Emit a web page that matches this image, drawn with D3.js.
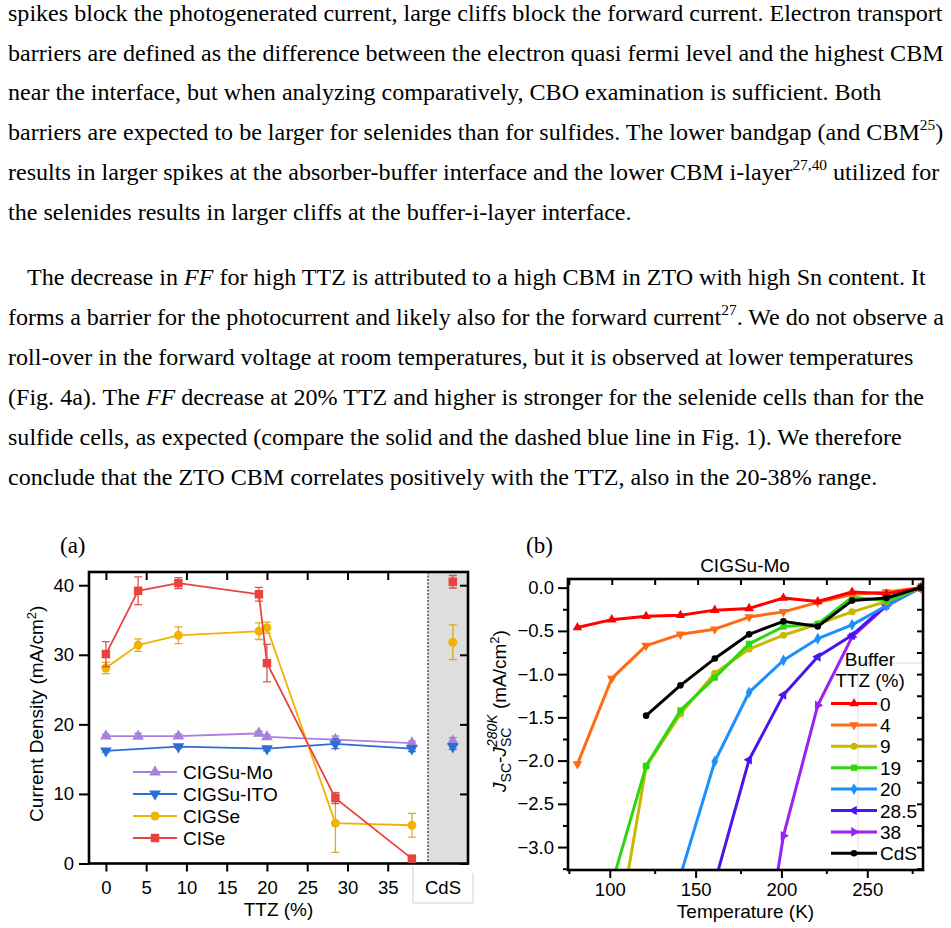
<!DOCTYPE html>
<html>
<head>
<meta charset="utf-8">
<script src="https://cdn.jsdelivr.net/npm/d3@7"></script>
<style>
  body { margin: 0; background: #fff; }
  svg { display: block; }
</style>
</head>
<body>
<div id="figdiv"></div>
<script>
/*global d3 */
(function () {
    "use strict";

    ////////////////////////////////////////
    // page text (one entry per printed line)
    ////////////////////////////////////////

    var textTop = [
        [["spikes block the photogenerated current, large cliffs block the forward current. Electron transport"]],
        [["barriers are defined as the difference between the electron quasi fermi level and the highest CBM"]],
        [["near the interface, but when analyzing comparatively, CBO examination is sufficient. Both"]],
        [["barriers are expected to be larger for selenides than for sulfides. The lower bandgap (and CBM"], ["25", "sup"], [")"]],
        [["results in larger spikes at the absorber-buffer interface and the lower CBM i-layer"], ["27,40", "sup"], [" utilized for"]],
        [["the selenides results in larger cliffs at the buffer-i-layer interface."]]
    ];
    var textBottom = [
        [["The decrease in "], ["FF", "i"], [" for high TTZ is attributed to a high CBM in ZTO with high Sn content. It"]],
        [["forms a barrier for the photocurrent and likely also for the forward current"], ["27", "sup"], [". We do not observe a"]],
        [["roll-over in the forward voltage at room temperatures, but it is observed at lower temperatures"]],
        [["(Fig. 4a). The "], ["FF", "i"], [" decrease at 20% TTZ and higher is stronger for the selenide cells than for the"]],
        [["sulfide cells, as expected (compare the solid and the dashed blue line in Fig. 1). We therefore"]],
        [["conclude that the ZTO CBM correlates positively with the TTZ, also in the 20-38% range."]]
    ];

    ////////////////////////////////////////
    // panel (a): Jsc vs TTZ
    ////////////////////////////////////////

    var seriesA = ["CIGSu-Mo", "CIGSu-ITO", "CIGSe", "CISe"];
    var ttzTicks = [0, 5, 10, 15, 20, 25, 30, 35];
    var jscTicks = [0, 10, 20, 30, 40];

    var moTtz = [0, 4, 9, 19, 20, 28.5, 38];
    var moJsc = [18.3, 18.3, 18.3, 18.7, 18.2, 17.8, 17.3];
    var moErr = [0.3, 0.4, 0.3, 0.3, 0.3, 0.5, 0.3];

    var itoTtz = [0, 9, 20, 28.5, 38];
    var itoJsc = [16.2, 16.8, 16.5, 17.2, 16.5];
    var itoErr = [0.2, 0.2, 0.3, 0.7, 0.4];

    var cigseTtz = [0, 4, 9, 19, 20, 28.5, 38];
    var cigseJsc = [28.1, 31.4, 32.8, 33.4, 33.9, 5.8, 5.5];
    var cigseErr = [0.8, 0.9, 1.2, 1.2, 0.8, 4.2, 1.7];

    var ciseTtz = [0, 4, 9, 19, 20, 28.5, 38];
    var ciseJsc = [30.1, 39.2, 40.3, 38.7, 28.8, 9.4, 0.7];
    var ciseErr = [1.8, 2.0, 0.8, 1.0, 2.7, 0.8, 0.3];

    var cdsLabel = ["CdS"];
    var cdsJsc = [17.6, 16.8, 31.8, 40.5];
    var cdsErr = [0.5, 0.4, 2.5, 0.9];

    ////////////////////////////////////////
    // panel (b): Jsc - Jsc(280K) vs temperature
    ////////////////////////////////////////

    var buffers = ["0", "4", "9", "19", "20", "28.5", "38", "CdS"];
    var tempK = [80, 100, 120, 140, 160, 180, 200, 220, 240, 260, 280];
    var dj0 = [-0.46, -0.37, -0.33, -0.32, -0.26, -0.24, -0.12, -0.16, -0.05, -0.07, 0];
    var dj4 = [-2.04, -1.05, -0.67, -0.54, -0.48, -0.34, -0.28, -0.17, -0.08, -0.05, 0];
    var dj9 = [null, -4.4, -2.07, -1.46, -0.99, -0.71, -0.55, -0.42, -0.28, -0.16, 0];
    var dj19 = [null, -3.43, -2.06, -1.42, -1.04, -0.65, -0.45, -0.42, -0.11, -0.15, 0];
    var dj20 = [null, null, null, -3.33, -2.01, -1.21, -0.84, -0.59, -0.43, -0.21, 0];
    var dj285 = [null, null, null, null, -3.41, -1.99, -1.24, -0.80, -0.55, -0.20, 0];
    var dj38 = [null, null, null, null, null, -5.35, -2.87, -1.36, -0.57, -0.21, 0];
    var djCdS = [null, null, -1.48, -1.13, -0.82, -0.54, -0.39, -0.45, -0.15, -0.12, 0];
    var tempMajor = [100, 150, 200, 250];
    var tempMinor = [75, 125, 175, 225, 275];
    var djMajor = [0, -0.5, -1, -1.5, -2, -2.5, -3];
    var djMinor = [-0.25, -0.75, -1.25, -1.75, -2.25, -2.75, -3.25];

    ////////////////////////////////////////
    // layout + styling
    ////////////////////////////////////////

    var W = 951, H = 928,
        sans = "'Liberation Sans', Arial, Helvetica, sans-serif",
        serif = "'Liberation Serif', 'Times New Roman', serif",
        fsTick = 18.5,
        fsLab = 19,
        pa = {left: 89, right: 468, split: 428, top: 572, bottom: 863.5},
        pb = {left: 568, right: 923, top: 579, bottom: 870},
        colA = {"CIGSu-Mo": "#a97fdf", "CIGSu-ITO": "#2a6fd6",
                "CIGSe": "#f1b300", "CISe": "#e8443e"},
        colB = {"0": "#ff0000", "4": "#ff6a14", "9": "#c9b800", "19": "#2bd80f",
                "20": "#1e8fff", "28.5": "#4b14ee", "38": "#9a20f4", "CdS": "#000000"},
        symA = {"CIGSu-Mo": [d3.symbolTriangle, 0, 60], "CIGSu-ITO": [d3.symbolTriangle, 180, 60],
                "CIGSe": [d3.symbolCircle, 0, 62], "CISe": [d3.symbolSquare, 0, 72]},
        symB = {"0": [d3.symbolTriangle, 0, 40], "4": [d3.symbolTriangle, 180, 40],
                "9": [d3.symbolCircle, 0, 40], "19": [d3.symbolSquare, 0, 40],
                "20": [d3.symbolDiamond, 0, 40], "28.5": [d3.symbolTriangle, 270, 40],
                "38": [d3.symbolTriangle, 90, 40], "CdS": [d3.symbolCircle, 0, 34]},
        svg, xA, yA, xCdS, xB, yB;

    svg = d3.select("#figdiv").append("svg")
        .attr("width", W).attr("height", H)
        .attr("font-family", sans);
    svg.append("rect").attr("width", W).attr("height", H).attr("fill", "#fff");


    ////////////////////////////////////////
    // helper functions
    ////////////////////////////////////////

    var symPath = function (spec) {
        return d3.symbol().type(spec[0]).size(spec[2])();
    };

    var fitFontSize = function (line, width) {
        var probe = svg.append("text").attr("font-family", serif)
            .attr("font-size", 20).text(line.map(function (s) { return s[0]; }).join("")),
            w = probe.node().getComputedTextLength();
        probe.remove();
        return 20 * width / w;
    };

    var drawLines = function (lines, x0, indent, base, gap, fs, maxRight) {
        lines.forEach(function (segs, i) {
            var x = (i === 0) ? x0 + indent : x0,
                t = svg.append("text").attr("font-family", serif)
                    .attr("font-size", fs).attr("fill", "#000")
                    .attr("x", x).attr("y", base + i * gap),
                lift = 0;
            segs.forEach(function (seg) {
                var ts = t.append("tspan").text(seg[0]);
                if (seg[1] === "i") {
                    ts.attr("font-style", "italic"); }
                if (seg[1] === "sup") {
                    ts.attr("font-size", fs * 0.64).attr("dy", -fs * 0.4);
                    lift = fs * 0.4; }
                else if (lift) {
                    ts.attr("dy", lift);
                    lift = 0; }
            });
            if (x + t.node().getComputedTextLength() > maxRight) {
                t.attr("textLength", maxRight - x).attr("lengthAdjust", "spacingAndGlyphs"); }
        });
    };

    var styleAxis = function (g) {
        g.select(".domain").remove();
        g.selectAll(".tick line").attr("stroke", "#000").attr("stroke-width", 2);
        g.selectAll(".tick text").attr("font-family", sans)
            .attr("font-size", fsTick).attr("fill", "#000");
    };

    var axisAt = function (axis, tx, ty) {
        svg.append("g").attr("transform", "translate(" + tx + "," + ty + ")")
            .call(axis).call(styleAxis);
    };


    ////////////////////////////////////////
    // text block
    ////////////////////////////////////////

    (function () {
        var fs = fitFontSize(textTop[0], 935);
        drawLines(textTop, 8, 0, 21, 39.7, fs, 944);
        drawLines(textBottom, 8, 19, 285, 39.9, fs, 944);
    }());


    ////////////////////////////////////////
    // panel (a)
    ////////////////////////////////////////

    xA = d3.scaleLinear().domain([-2.1, 40]).range([pa.left, pa.split]);
    yA = d3.scaleLinear().domain([0, 41.9]).range([pa.bottom, pa.top]);
    xCdS = d3.scalePoint().domain(cdsLabel).range([pa.split, pa.right]).padding(0.5).align(0.62);

    svg.append("text").attr("font-family", serif).attr("font-size", 23)
        .attr("x", 60).attr("y", 553).text("(a)");

    // grey CdS reference strip
    svg.append("rect").attr("x", pa.split).attr("y", pa.top)
        .attr("width", pa.right - pa.split).attr("height", pa.bottom - pa.top)
        .attr("fill", "#dedede");
    svg.append("line").attr("x1", pa.split).attr("x2", pa.split)
        .attr("y1", pa.top).attr("y2", pa.bottom)
        .attr("stroke", "#555").attr("stroke-width", 1.6).attr("stroke-dasharray", "2,1.5");

    axisAt(d3.axisLeft(yA).tickValues(jscTicks).tickSize(10).tickPadding(5), pa.left, 0);
    axisAt(d3.axisLeft(yA).tickValues(jscTicks).tickSize(8).tickFormat(""), pa.right, 0);
    axisAt(d3.axisBottom(xA).tickValues(ttzTicks).tickSize(8).tickPadding(9), 0, pa.bottom);
    axisAt(d3.axisBottom(xA).tickValues(ttzTicks).tickSize(8).tickFormat(""), 0, pa.top);

    svg.append("rect").attr("x", pa.left).attr("y", pa.top)
        .attr("width", pa.right - pa.left).attr("height", pa.bottom - pa.top)
        .attr("fill", "none").attr("stroke", "#000").attr("stroke-width", 2.6);

    // CdS tick label box
    svg.append("path").attr("d", "M413,866V903H473V873")
        .attr("fill", "none").attr("stroke", "#cfcfcf").attr("stroke-width", 1);
    svg.append("text").attr("x", 443).attr("y", 894).attr("text-anchor", "middle")
        .attr("font-size", fsTick).text(cdsLabel[0]);

    svg.append("text").attr("x", (pa.left + pa.right) / 2).attr("y", 916)
        .attr("text-anchor", "middle").attr("font-size", fsLab).text("TTZ (%)");
    (function () {
        var t = svg.append("text")
            .attr("transform", "translate(43," + ((pa.top + pa.bottom) / 2 - 4) + ") rotate(-90)")
            .attr("text-anchor", "middle").attr("font-size", fsLab);
        t.append("tspan").text("Current Density (mA/cm");
        t.append("tspan").attr("font-size", 13).attr("dy", -7).text("2");
        t.append("tspan").attr("dy", 7).text(")");
    }());

    (function () {
        var sets = [
            {name: "CIGSu-Mo", x: moTtz, y: moJsc, e: moErr},
            {name: "CIGSu-ITO", x: itoTtz, y: itoJsc, e: itoErr},
            {name: "CIGSe", x: cigseTtz, y: cigseJsc, e: cigseErr},
            {name: "CISe", x: ciseTtz, y: ciseJsc, e: ciseErr}
        ],
        line = d3.line().x(function (d) { return xA(d[0]); })
                        .y(function (d) { return yA(d[1]); });

        sets.forEach(function (s, k) {
            var col = colA[s.name],
                ecol = d3.color(col).darker(0.35).formatHex(),
                pts = s.x.map(function (v, i) { return [v, s.y[i], s.e[i]]; }),
                g = svg.append("g"),
                cx = xCdS(cdsLabel[0]);

            // error bars, including the CdS reference
            pts.concat([["cds", cdsJsc[k], cdsErr[k]]]).forEach(function (p) {
                var px = p[0] === "cds" ? cx : xA(p[0]);
                g.append("path")
                    .attr("d", "M" + (px - 4) + "," + yA(p[1] + p[2]) + "H" + (px + 4) +
                          "M" + px + "," + yA(p[1] + p[2]) + "V" + yA(p[1] - p[2]) +
                          "M" + (px - 4) + "," + yA(p[1] - p[2]) + "H" + (px + 4))
                    .attr("stroke", ecol).attr("stroke-width", 1.3)
                    .attr("fill", "none").attr("opacity", 0.85);
            });

            g.append("path").datum(pts).attr("d", line)
                .attr("fill", "none").attr("stroke", col).attr("stroke-width", 1.8);

            g.selectAll("path.mk").data(pts.concat([["cds", cdsJsc[k]]])).enter()
                .append("path").attr("class", "mk")
                .attr("d", symPath(symA[s.name]))
                .attr("transform", function (p) {
                    var px = p[0] === "cds" ? cx : xA(p[0]);
                    return "translate(" + px + "," + yA(p[1]) + ") rotate(" + symA[s.name][1] + ")";
                })
                .attr("fill", col);
        });

        // legend
        seriesA.forEach(function (name, i) {
            var y = 772 + i * 22;
            svg.append("line").attr("x1", 133).attr("x2", 177).attr("y1", y).attr("y2", y)
                .attr("stroke", colA[name]).attr("stroke-width", 1.8);
            svg.append("path").attr("d", symPath(symA[name]))
                .attr("transform", "translate(155," + y + ") rotate(" + symA[name][1] + ")")
                .attr("fill", colA[name]);
            svg.append("text").attr("x", 183).attr("y", y + 7)
                .attr("font-size", fsLab).text(name);
        });
    }());


    ////////////////////////////////////////
    // panel (b)
    ////////////////////////////////////////

    xB = d3.scaleLinear().domain([74.5, 281.3]).range([pb.left, pb.right]);
    yB = d3.scaleLinear().domain([-3.265, 0.1]).range([pb.bottom, pb.top]);

    svg.append("text").attr("font-family", serif).attr("font-size", 23)
        .attr("x", 526).attr("y", 553).text("(b)");
    svg.append("text").attr("x", 745).attr("y", 572).attr("text-anchor", "middle")
        .attr("font-size", fsLab).text("CIGSu-Mo");

    axisAt(d3.axisLeft(yB).tickValues(djMajor).tickSize(10).tickPadding(4)
           .tickFormat(d3.format(".1f")), pb.left, 0);
    axisAt(d3.axisLeft(yB).tickValues(djMinor.filter(function (v) { return v > -3.26; }))
           .tickSize(5).tickFormat(""), pb.left, 0);
    axisAt(d3.axisLeft(yB).tickValues(djMajor.concat(djMinor).filter(function (v) { return v > -3.26; }))
           .tickSize(6).tickFormat(""), pb.right, 0);
    axisAt(d3.axisBottom(xB).tickValues(tempMajor).tickSize(8).tickPadding(4.5), -2, pb.bottom);
    axisAt(d3.axisBottom(xB).tickValues(tempMinor).tickSize(4).tickFormat(""), 0, pb.bottom);
    axisAt(d3.axisBottom(xB).tickValues(tempMajor.concat(tempMinor)).tickSize(6).tickFormat(""), 0, pb.top);

    svg.append("text").attr("x", (pb.left + pb.right) / 2).attr("y", 918)
        .attr("text-anchor", "middle").attr("font-size", fsLab).text("Temperature (K)");

    (function () {
        var t = svg.append("text")
            .attr("transform", "translate(506,711) rotate(-90)")
            .attr("text-anchor", "middle").attr("font-size", fsLab),
            sub = 14, w;
        t.append("tspan").attr("font-style", "italic").text("J");
        t.append("tspan").attr("font-size", sub).attr("dy", 5).text("SC");
        t.append("tspan").attr("dy", -5).text("-");
        t.append("tspan").attr("font-style", "italic").text("J");
        w = t.append("tspan").attr("font-size", sub).attr("dy", 5).text("SC");
        w = w.node().getComputedTextLength();
        t.append("tspan").attr("font-size", sub).attr("font-style", "italic")
            .attr("dx", -w).attr("dy", -14).text("280K");
        t.append("tspan").attr("dy", 9).text(" (mA/cm");
        t.append("tspan").attr("font-size", 13).attr("dy", -7).text("2");
        t.append("tspan").attr("dy", 7).text(")");
    }());

    // faint legend box edge
    svg.append("path").attr("d", "M858," + pb.bottom + "V663H" + pb.right)
        .attr("fill", "none").attr("stroke", "#dcdcdc").attr("stroke-width", 1);

    svg.append("clipPath").attr("id", "clipb").append("rect")
        .attr("x", pb.left).attr("y", pb.top)
        .attr("width", pb.right - pb.left).attr("height", pb.bottom - pb.top);

    (function () {
        var vals = {"0": dj0, "4": dj4, "9": dj9, "19": dj19, "20": dj20,
                    "28.5": dj285, "38": dj38, "CdS": djCdS},
            order = ["38", "28.5", "20", "9", "19", "4", "0", "CdS"],
            line = d3.line().x(function (d) { return xB(d[0]); })
                            .y(function (d) { return yB(d[1]); }),
            plot = svg.append("g").attr("clip-path", "url(#clipb)");

        order.forEach(function (b) {
            var pts = tempK.map(function (t, i) { return [t, vals[b][i]]; })
                .filter(function (p) { return p[1] !== null; });
            plot.append("path").datum(pts).attr("d", line)
                .attr("fill", "none").attr("stroke", colB[b])
                .attr("stroke-width", 3).attr("stroke-linejoin", "round");
            plot.selectAll(null).data(pts).enter().append("path")
                .attr("d", symPath(symB[b]))
                .attr("transform", function (p) {
                    return "translate(" + xB(p[0]) + "," + yB(p[1]) + ") rotate(" + symB[b][1] + ")";
                })
                .attr("fill", colB[b]);
        });

        // legend
        svg.append("text").attr("x", 870).attr("y", 666).attr("text-anchor", "middle")
            .attr("font-size", fsLab).text("Buffer");
        svg.append("text").attr("x", 870).attr("y", 687).attr("text-anchor", "middle")
            .attr("font-size", fsLab).text("TTZ (%)");
        buffers.forEach(function (b, i) {
            var y = 703.5 + i * 21.4;
            svg.append("line").attr("x1", 831).attr("x2", 877).attr("y1", y).attr("y2", y)
                .attr("stroke", colB[b]).attr("stroke-width", 3);
            svg.append("path").attr("d", symPath(symB[b]))
                .attr("transform", "translate(854," + y + ") rotate(" + symB[b][1] + ")")
                .attr("fill", colB[b]);
            svg.append("text").attr("x", 880).attr("y", y + 7)
                .attr("font-size", fsLab).text(b);
        });
    }());

    svg.append("rect").attr("x", pb.left).attr("y", pb.top)
        .attr("width", pb.right - pb.left).attr("height", pb.bottom - pb.top)
        .attr("fill", "none").attr("stroke", "#000").attr("stroke-width", 2.6);
}());
</script>
</body>
</html>
